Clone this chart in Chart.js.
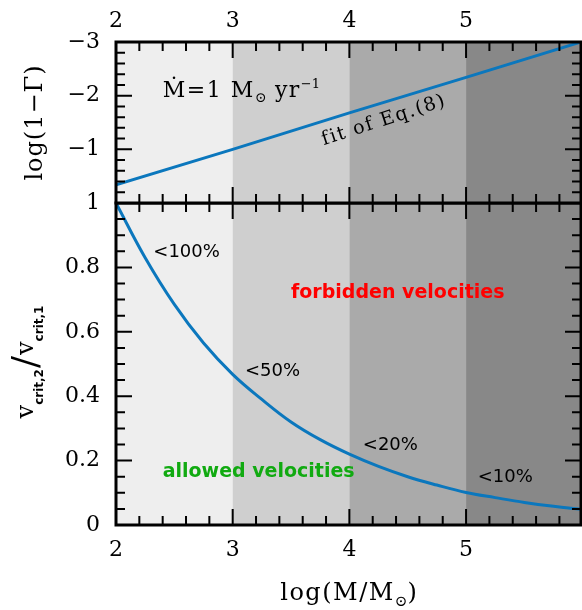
<!DOCTYPE html>
<html>
<head>
<meta charset="utf-8">
<script src="https://cdn.jsdelivr.net/npm/chart.js@4.4.1/dist/chart.umd.min.js"></script>
<style>
  html, body { margin: 0; padding: 0; background: #fff; }
  #wrap { position: relative; width: 582px; height: 610px; }
  .layer { position: absolute; left: 0; top: 0; width: 582px; height: 610px; }
</style>
</head>
<body>
<div id="wrap">
  <div class="layer"><canvas id="bottomChart"></canvas></div>
  <div class="layer"><canvas id="topChart"></canvas></div>
</div>
<script>
// data
const massMin = 2;
const massMax = 5.985;
const bandEdges = [2, 3, 4, 5, 6];
const bandColors = ["#eeeeee", "#cfcfcf", "#aaaaaa", "#888888"];

const fitMass = [2, 3, 4, 5, 5.985];
const fitLogGamma = [-0.34, -1.0, -1.68, -2.34, -3.0];

const ratioMass = [2.0, 2.25, 2.5, 2.75, 3.0, 3.25, 3.5, 3.75, 4.0, 4.25, 4.5, 4.75, 5.0, 5.25, 5.5, 5.75, 5.985];
const velocityRatio = [1.0, 0.83, 0.685, 0.565, 0.468, 0.39, 0.32, 0.265, 0.22, 0.182, 0.15, 0.124, 0.101, 0.085, 0.07, 0.058, 0.049];

const percentLabels = ["<100%", "<50%", "<20%", "<10%"];
const percentMass = [2.32, 3.105, 4.115, 5.10];
const percentRatio = [0.848, 0.478, 0.248, 0.148];

Chart.defaults.font.family = "DejaVu Serif";
Chart.defaults.color = "#000";

const tickFont = { family: "DejaVu Serif", size: 22 };
const blue = "#0b77bd";

function drawParts(ctx, parts, x, y, angle, align) {
  ctx.save();
  ctx.translate(x, y);
  ctx.rotate(angle);
  let w = 0;
  parts.forEach(p => {
    ctx.font = p.font;
    ctx.letterSpacing = p.ls || "0px";
    p.w = ctx.measureText(p.text).width + (p.gap || 0);
    w += p.w;
  });
  let cx = align === "center" ? -w / 2 : 0;
  ctx.textBaseline = "alphabetic";
  ctx.textAlign = "left";
  parts.forEach(p => {
    ctx.font = p.font;
    ctx.letterSpacing = p.ls || "0px";
    ctx.fillStyle = p.color || "#000";
    ctx.fillText(p.text, cx, p.dy || 0);
    cx += p.w;
  });
  ctx.restore();
}

const panelPlugin = {
  id: "panel",
  beforeDatasetsDraw(chart, args, o) {
    const { ctx, chartArea: a, scales } = chart;
    ctx.save();
    ctx.beginPath();
    ctx.rect(a.left, a.top, a.right - a.left, a.bottom - a.top);
    ctx.clip();
    for (let i = 0; i < bandColors.length; i++) {
      const x0 = scales.x.getPixelForValue(bandEdges[i]);
      const x1 = scales.x.getPixelForValue(bandEdges[i + 1]);
      ctx.fillStyle = bandColors[i];
      ctx.fillRect(x0, a.top, x1 - x0, a.bottom - a.top);
    }
    ctx.restore();
  },
  afterDatasetsDraw(chart, args, o) {
    const { ctx, chartArea: a, scales } = chart;
    const xs = scales.x, ys = scales.y;
    ctx.save();
    ctx.strokeStyle = "#000";
    ctx.lineWidth = 2;
    ctx.beginPath();
    for (let i = 1; i < 20; i++) {
      const v = massMin + i * 0.2;
      if (v >= xs.max) break;
      const len = i % 5 === 0 ? 16 : 9;
      const px = xs.getPixelForValue(v);
      ctx.moveTo(px, a.top); ctx.lineTo(px, a.top + len);
      ctx.moveTo(px, a.bottom); ctx.lineTo(px, a.bottom - len);
    }
    const n = Math.round((o.yMax - o.yMin) / o.minor);
    for (let i = 1; i < n; i++) {
      const v = o.yMin + i * o.minor;
      const len = i % o.every === 0 ? 16 : 9;
      const py = ys.getPixelForValue(v);
      ctx.moveTo(a.left, py); ctx.lineTo(a.left + len, py);
      ctx.moveTo(a.right, py); ctx.lineTo(a.right - len, py);
    }
    ctx.stroke();
    ctx.lineWidth = 3;
    ctx.strokeRect(a.left, a.top, a.right - a.left, a.bottom - a.top);
    ctx.restore();
    o.annotate(chart);
  }
};

function baseScales(pos, yMin, yMax, yStep, yReverse, yFmt, xH, xPad) {
  return {
    x: {
      type: "linear", position: pos, min: massMin, max: massMax,
      grid: { display: false, drawTicks: false }, border: { display: false },
      ticks: { stepSize: 1, includeBounds: false, padding: xPad, font: tickFont, color: "#000",
        callback: v => String(v) },
      afterFit: s => { s.height = xH; }
    },
    y: {
      type: "linear", min: yMin, max: yMax, reverse: yReverse,
      grid: { display: false, drawTicks: false }, border: { display: false },
      ticks: { stepSize: yStep, padding: 16, font: tickFont, color: "#000", callback: yFmt },
      afterFit: s => { s.width = 116; }
    }
  };
}

const common = {
  responsive: true,
  maintainAspectRatio: false,
  animation: false,
  events: [],
  plugins: { legend: { display: false }, tooltip: { enabled: false } }
};

// top panel: log(1 - Gamma)
new Chart(document.getElementById("topChart"), {
  type: "line",
  data: {
    datasets: [{
      data: fitMass.map((m, i) => ({ x: m, y: fitLogGamma[i] })),
      borderColor: blue, borderWidth: 3, pointRadius: 0, tension: 0
    }]
  },
  options: {
    ...common,
    layout: { padding: { top: 0, left: 0, right: 1, bottom: 407 } },
    scales: baseScales("top", -3, 0, 1, true, v => (v === 0 ? "" : "\u2212" + Math.abs(v)), 42, 8),
    plugins: {
      ...common.plugins,
      panel: {
        yMin: -3, yMax: 0, minor: 0.2, every: 5,
        annotate(chart) {
          const { ctx, scales } = chart;
          const xs = scales.x, ys = scales.y;
          const serif = "DejaVu Serif";
          drawParts(ctx, [
            { text: "Ṁ=1 M", font: "22px " + serif, ls: "1.5px" },
            { text: "⊙", font: "14px " + serif, dy: 5 },
            { text: " yr", font: "22px " + serif, ls: "1.5px" },
            { text: "−1", font: "13px " + serif, dy: -9 }
          ], xs.getPixelForValue(2.40), ys.getPixelForValue(-1.975), 0, "left");
          drawParts(ctx, [
            { text: "fit of Eq.(8)", font: "19px " + serif, ls: "1.5px" }
          ], xs.getPixelForValue(4.31), ys.getPixelForValue(-1.45), -18 * Math.PI / 180, "center");
          drawParts(ctx, [
            { text: "log(1\u2212\u0393)", font: "24px " + serif, ls: "1px" }
          ], 42, (chart.chartArea.top + chart.chartArea.bottom) / 2, -Math.PI / 2, "center");
        }
      }
    }
  },
  plugins: [panelPlugin]
});

// bottom panel: v_crit,2 / v_crit,1
new Chart(document.getElementById("bottomChart"), {
  type: "line",
  data: {
    datasets: [{
      data: ratioMass.map((m, i) => ({ x: m, y: velocityRatio[i] })),
      borderColor: blue, borderWidth: 3, pointRadius: 0, tension: 0.4
    }]
  },
  options: {
    ...common,
    layout: { padding: { top: 203, left: 0, right: 1, bottom: 0 } },
    scales: baseScales("bottom", 0, 1, 0.2, false,
      v => (v === 0 ? "0" : v === 1 ? "1" : v.toFixed(1)), 85, 12),
    plugins: {
      ...common.plugins,
      panel: {
        yMin: 0, yMax: 1, minor: 0.05, every: 4,
        annotate(chart) {
          const { ctx, scales, chartArea: a } = chart;
          const xs = scales.x, ys = scales.y;
          ctx.save();
          ctx.fillStyle = "#000";
          ctx.font = "18px DejaVu Sans";
          ctx.textBaseline = "middle";
          ctx.textAlign = "left";
          percentLabels.forEach((t, i) => {
            ctx.fillText(t, xs.getPixelForValue(percentMass[i]), ys.getPixelForValue(percentRatio[i]));
          });
          ctx.font = "bold 19px DejaVu Sans";
          ctx.fillStyle = "#ff0000";
          ctx.fillText("forbidden velocities", xs.getPixelForValue(3.5), ys.getPixelForValue(0.72));
          ctx.fillStyle = "#11aa11";
          ctx.fillText("allowed velocities", xs.getPixelForValue(2.40), ys.getPixelForValue(0.165));
          ctx.restore();

          const serif = "DejaVu Serif";
          drawParts(ctx, [
            { text: "log(M/M", font: "24px " + serif, ls: "1.5px" },
            { text: "⊙", font: "15px " + serif, dy: 6 },
            { text: ")", font: "24px " + serif }
          ], (a.left + a.right) / 2, 600, 0, "center");

          drawParts(ctx, [
            { text: "v", font: "24px " + serif },
            { text: "crit,2", font: "bold 12px DejaVu Sans", dy: 10, gap: 1 },
            { text: "/", font: "36px " + serif, dy: 4, gap: 1 },
            { text: "v", font: "24px " + serif },
            { text: "crit,1", font: "bold 12px DejaVu Sans", dy: 10 }
          ], 33, 362, -Math.PI / 2, "center");
        }
      }
    }
  },
  plugins: [panelPlugin]
});
</script>
</body>
</html>
